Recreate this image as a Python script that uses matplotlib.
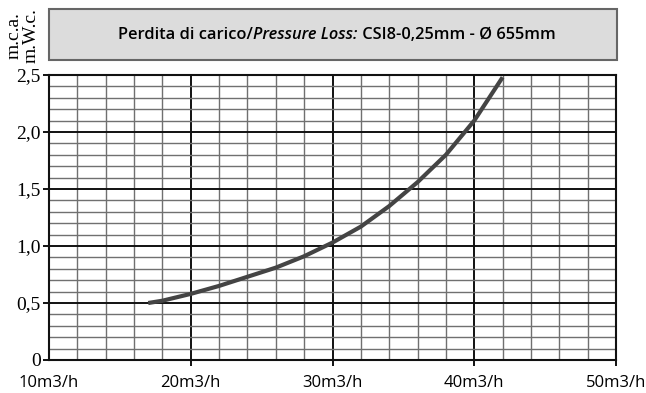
import matplotlib
matplotlib.use("Agg")
import matplotlib.pyplot as plt
from matplotlib.patches import Rectangle
from matplotlib.ticker import MultipleLocator

# Flow rate (m3/h) and pressure loss (m.c.a.)
flow = [17, 18, 20, 22, 24, 26, 28, 30, 32, 34, 36, 38, 40, 42]
loss = [0.50, 0.52, 0.58, 0.65, 0.73, 0.81, 0.91, 1.03, 1.17, 1.35, 1.56, 1.80, 2.10, 2.48]

x_ticks = [10, 20, 30, 40, 50]
x_labels = ["10m3/h", "20m3/h", "30m3/h", "40m3/h", "50m3/h"]
y_ticks = [0, 0.5, 1.0, 1.5, 2.0, 2.5]
y_labels = ["0", "0,5", "1,0", "1,5", "2,0", "2,5"]

W, H = 646, 393
fig = plt.figure(figsize=(W / 100, H / 100), dpi=100)
ax = fig.add_axes([49 / W, 1 - 360 / H, (616 - 49) / W, (360 - 75) / H])

ax.set_xlim(10, 50)
ax.set_ylim(0, 2.5)

# grid: light minor lines, heavier major lines
ax.xaxis.set_minor_locator(MultipleLocator(2))
ax.yaxis.set_minor_locator(MultipleLocator(0.1))
ax.grid(which="minor", color="#707070", linewidth=1.0)
ax.grid(which="major", color="#111111", linewidth=1.4)
ax.set_axisbelow(True)

ax.set_xticks(x_ticks)
ax.set_xticklabels(x_labels, family="Open Sans", fontsize=12)
ax.set_yticks(y_ticks)
ax.set_yticklabels(y_labels, family="Liberation Serif", fontsize=14)
ax.tick_params(which="major", direction="out", length=4, width=1.4, color="#111111")
ax.tick_params(axis="x", which="major", pad=7)
ax.tick_params(axis="y", which="major", pad=2)
ax.tick_params(which="minor", length=0)
ax.xaxis.get_major_ticks()[0].tick1line.set_visible(False)
for s in ax.spines.values():
    s.set_linewidth(1.5)
    s.set_color("#111111")

ax.plot(flow, loss, color="#444444", linewidth=3, solid_capstyle="butt",
        solid_joinstyle="round", zorder=5)

# title box
fig.patches.append(Rectangle((49 / W, 1 - 60 / H), (617 - 49) / W, (60 - 9.5) / H,
                             transform=fig.transFigure, facecolor="#dcdcdc",
                             edgecolor="#666666", linewidth=1.5))

parts = [("Perdita di carico/", "normal"),
         ("Pressure Loss:", "italic"),
         (" CSI8-0,25mm - Ø 655mm", "normal")]
ty = 1 - 35 / H
renderer = fig.canvas.get_renderer()
texts = []
for s, style in parts:
    t = fig.text(0, ty, s, family="Open Sans", fontsize=11.8, weight="semibold",
                 style=style, va="center", ha="left")
    texts.append(t)
widths = [t.get_window_extent(renderer).width for t in texts]
total = sum(widths)
x0 = 337 - total / 2
for t, w in zip(texts, widths):
    t.set_x(x0 / W)
    x0 += w

fig.text(23 / W, 1 - 36 / H, "m.c.a.\nm.W.c.", rotation=90, family="Liberation Serif",
         fontsize=14, ha="center", va="center", linespacing=1.0)

fig.savefig("out.png", dpi=100)
